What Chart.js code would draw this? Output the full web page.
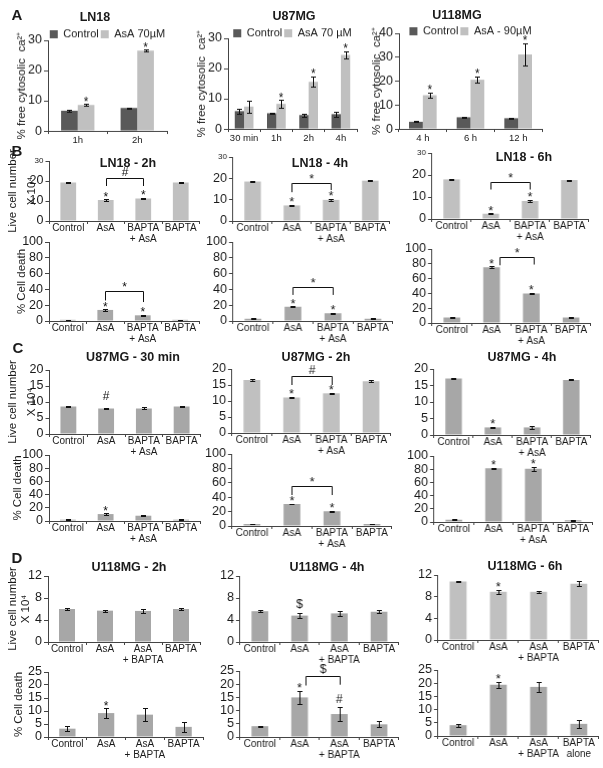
<!DOCTYPE html>
<html>
<head>
<meta charset="utf-8">
<script src="https://cdn.jsdelivr.net/npm/chart.js@4.4.0/dist/chart.umd.min.js"></script>
<style>
body { margin: 0; width: 603px; height: 768px; position: relative; overflow: hidden; background: #fff; font-family: "Liberation Sans", Arial, sans-serif; color: #1a1a1a; }
canvas { position: absolute; }
.t { position: absolute; font-weight: bold; font-size: 12.5px; transform: translate(-50%, -50%); white-space: nowrap; }
.p { position: absolute; font-weight: bold; font-size: 15px; transform: translate(-50%, -50%); }
</style>
</head>
<body>
<script>
// ---- A: cytosolic Ca2+ ----
const timesLN18 = ['1h', '2h'];
const caLN18Ctrl = [6.7, 7.6];
const caLN18AsA = [8.6, 26.6];
const caLN18CtrlErr = [0.3, 0.2];
const caLN18AsAErr = [0.3, 0.3];

const timesU87 = ['30 min', '1h', '2h', '4h'];
const caU87Ctrl = [5.9, 5.2, 4.6, 4.9];
const caU87AsA = [7.4, 8.3, 15.6, 24.5];
const caU87CtrlErr = [0.8, 0.3, 0.5, 0.9];
const caU87AsAErr = [2.0, 1.3, 1.7, 1.2];

const timesU118 = ['4 h', '6 h', '12 h'];
const caU118Ctrl = [3.0, 4.9, 4.5];
const caU118AsA = [14.1, 20.6, 31.2];
const caU118CtrlErr = [0.2, 0.2, 0.2];
const caU118AsAErr = [1.2, 1.4, 4.7];

// ---- B-D: treatments ----
const groupsBC = ['Control', 'AsA', ['BAPTA', '+ AsA'], 'BAPTA'];
const groupsD = ['Control', 'AsA', ['AsA', '+ BAPTA'], 'BAPTA'];
const groupsD6 = ['Control', 'AsA', ['AsA', '+ BAPTA'], ['BAPTA', 'alone']];

const liveLN18_2h = [19.2, 10.5, 11.3, 19.2];
const liveLN18_2hErr = [0.2, 0.3, 0.2, 0.2];
const deathLN18_2h = [1.5, 14, 7.2, 1.5];
const deathLN18_2hErr = [0.3, 0.8, 0.6, 0.3];

const liveLN18_4h = [18.5, 7.3, 9.9, 18.9];
const liveLN18_4hErr = [0.2, 0.4, 0.6, 0.2];
const deathLN18_4h = [3, 17.9, 9.7, 3];
const deathLN18_4hErr = [0.3, 0.5, 0.6, 0.3];

const liveLN18_6h = [18, 2.4, 8.2, 17.7];
const liveLN18_6hErr = [0.2, 0.2, 0.4, 0.2];
const deathLN18_6h = [7.6, 75.5, 40, 7.6];
const deathLN18_6hErr = [0.5, 1, 1.2, 0.5];

const liveU87_30m = [8.6, 8.0, 8.0, 8.6];
const liveU87_30mErr = [0.15, 0.2, 0.3, 0.1];
const deathU87_30m = [2, 10.5, 8, 2];
const deathU87_30mErr = [0.3, 1, 0.6, 0.3];

const liveU87_2h = [16.6, 11.1, 12.4, 16.2];
const liveU87_2hErr = [0.4, 0.25, 0.2, 0.3];
const deathU87_2h = [2.8, 30.5, 20.5, 2.8];
const deathU87_2hErr = [0.4, 0.6, 1, 0.3];

const liveU87_4h = [17.1, 2.3, 2.3, 16.7];
const liveU87_4hErr = [0.15, 0.2, 0.5, 0.15];
const deathU87_4h = [3.5, 81.5, 80.5, 2.5];
const deathU87_4hErr = [0.5, 1, 3.5, 0.5];

const liveU118_2h = [6.0, 5.7, 5.65, 6.0];
const liveU118_2hErr = [0.2, 0.2, 0.3, 0.2];
const deathU118_2h = [3.2, 9.2, 8.6, 3.9];
const deathU118_2hErr = [1.0, 1.8, 2.5, 1.9];

const liveU118_4h = [5.6, 4.8, 5.2, 5.5];
const liveU118_4hErr = [0.15, 0.45, 0.45, 0.3];
const deathU118_4h = [4.1, 15, 8.7, 4.8];
const deathU118_4hErr = [0.2, 2.4, 2.5, 1.1];

const liveU118_6h = [10.8, 8.9, 8.9, 10.4];
const liveU118_6hErr = [0.15, 0.35, 0.2, 0.5];
const deathU118_6h = [4.1, 19.4, 18.6, 4.6];
const deathU118_6hErr = [0.6, 1.1, 1.9, 1.4];

const TXT = '#1a1a1a', AX = '#444';
const DARK = '#595959', LIGHT = '#c0c0c0', MID = '#a7a7a7';
const LIVE = ['Live cell number', 'X 10\u2074'];
const DEATH = '% Cell death';
const CA = '% free cytosolic  ca\u00b2\u207a';

// error bars, stars, brackets; also pulls the legend down next to the plot
const marks = {
  id: 'marks',
  beforeDraw(chart, args, o) {
    const lg = chart.legend;
    if (o.legY == null || !lg || !lg.options.display) return;
    const h = lg.height;
    lg.top = chart.chartArea.top - o.legY - 2 - 5.5;
    lg.bottom = lg.top + h;
  },
  afterDatasetsDraw(chart, args, o) {
    const ctx = chart.ctx, ys = chart.scales.y, xs = chart.scales.x;
    ctx.save();
    ctx.strokeStyle = '#111';
    ctx.fillStyle = '#111';
    ctx.lineWidth = 1;
    const seg = (x1, y1, x2, y2) => { ctx.beginPath(); ctx.moveTo(x1, y1); ctx.lineTo(x2, y2); ctx.stroke(); };
    chart.data.datasets.forEach((ds, d) => {
      const meta = chart.getDatasetMeta(d);
      (ds.err || []).forEach((e, i) => {
        const x = Math.round(meta.data[i].x) + 0.5;
        const y1 = Math.round(ys.getPixelForValue(ds.data[i] + e)) + 0.5;
        const y2 = Math.round(ys.getPixelForValue(ds.data[i] - e)) + 0.5;
        seg(x, y1, x, y2); seg(x - 2.5, y1, x + 2.5, y1); seg(x - 2.5, y2, x + 2.5, y2);
      });
    });
    ctx.textAlign = 'center';
    ctx.textBaseline = 'middle';
    ctx.font = '12px "Liberation Sans", Arial';
    (o.stars || []).forEach(s => {
      const ds = chart.data.datasets[s.d || 0];
      const x = chart.getDatasetMeta(s.d || 0).data[s.i].x;
      const top = ys.getPixelForValue(ds.data[s.i] + (ds.err ? ds.err[s.i] : 0));
      ctx.fillText(s.t, x, top - (s.o != null ? s.o : (s.t === '*' ? 2 : 8)));
    });
    (o.brackets || []).forEach(b => {
      const x1 = Math.round(xs.getPixelForValue(b.a)) + 0.5, x2 = Math.round(xs.getPixelForValue(b.b)) + 0.5;
      const y = Math.round(ys.getPixelForValue(b.y)) + 0.5;
      ctx.beginPath();
      ctx.moveTo(x1, ys.getPixelForValue(b.l));
      ctx.lineTo(x1, y); ctx.lineTo(x2, y);
      ctx.lineTo(x2, ys.getPixelForValue(b.r));
      ctx.stroke();
      ctx.fillText(b.t, (x1 + x2) / 2, y - (b.t === '*' ? 4 : (b.t === '$' ? 7 : 6)));
    });
    ctx.restore();
  }
};

function panel(box, c) {
  const cv = document.createElement('canvas');
  cv.width = box.r - box.l + 90;
  cv.height = box.b - box.t + 80;
  document.body.appendChild(cv);
  const scales = {
    x: {
      grid: { drawOnChartArea: false, tickLength: 3, color: AX },
      border: { color: AX },
      ticks: {
        color: TXT, font: { size: c.xfs || 10, lineHeight: 1.1 },
        padding: c.xpad != null ? c.xpad : -1.5, maxRotation: 0, autoSkip: false
      }
    },
    y: {
      min: 0, max: c.max,
      afterFit: c.yw ? (s => { s.width = c.yw; }) : undefined,
      grid: { drawOnChartArea: false, tickLength: 4, color: AX },
      border: { color: AX },
      ticks: {
        stepSize: c.step, color: TXT, padding: 2, autoSkip: false,
        font: ctx => ({ size: (c.small && ctx.tick && ctx.tick.value === c.max) ? 8 : 12.5 })
      },
      title: c.ytitle ? {
        display: true, text: c.ytitle, color: TXT, padding: 0,
        font: { size: 11.5, lineHeight: c.lh || 1.2 }
      } : { display: false }
    }
  };
  if (c.legend) {
    // empty right-hand spacer so the full-width legend centres over the plot
    scales.spacer = {
      position: 'right', min: 0, max: 1,
      grid: { display: false }, border: { display: false }, ticks: { display: false },
      afterFit: s => { s.width = c.yw; }
    };
  }
  const chart = new Chart(cv, {
    type: 'bar',
    data: {
      labels: c.labels,
      datasets: c.sets.map(s => ({
        label: s.label, data: s.data, err: s.err, backgroundColor: s.color, yAxisID: 'y',
        categoryPercentage: c.cp || 1, barPercentage: c.bp || 0.42
      }))
    },
    options: {
      responsive: false, maintainAspectRatio: false, animation: false,
      layout: { padding: { top: 18, right: c.legend ? 0 : 8 } },
      plugins: {
        legend: c.legend ? {
          display: true, position: 'top', align: 'center',
          labels: { boxWidth: 8, boxHeight: 8, padding: 2, color: TXT, font: { size: 11 } }
        } : { display: false },
        tooltip: { enabled: false },
        marks: { stars: c.stars || [], brackets: c.brackets || [], legY: c.legY }
      },
      scales
    },
    plugins: [marks]
  });
  for (let k = 0; k < 2; k++) {
    const a = chart.chartArea;
    const dw = (box.r - box.l) - (a.right - a.left);
    const dh = (box.b - box.t) - (a.bottom - a.top);
    if (Math.abs(dw) > 0.2 || Math.abs(dh) > 0.2) chart.resize(chart.width + dw, chart.height + dh);
  }
  const a = chart.chartArea;
  cv.style.left = (box.l - a.left) + 'px';
  cv.style.top = (box.t - a.top) + 'px';
  return chart;
}

function label(text, x, y, cls) {
  const d = document.createElement('div');
  d.className = cls || 't';
  d.textContent = text;
  d.style.left = x + 'px';
  d.style.top = y + 'px';
  document.body.appendChild(d);
}

const one = (data, err, color) => [{ label: '', data, err, color }];

// ---- A ----
panel({ l: 48, t: 40, r: 167, b: 130 }, {
  labels: timesLN18, max: 30, step: 10, ytitle: CA, yw: 33, cp: 0.56, bp: 1, xfs: 9.5, xpad: 1,
  legend: true, legY: 6,
  sets: [
    { label: 'Control', data: caLN18Ctrl, err: caLN18CtrlErr, color: DARK },
    { label: 'AsA 70\u00b5M', data: caLN18AsA, err: caLN18AsAErr, color: LIGHT }
  ],
  stars: [{ i: 0, d: 1, t: '*' }, { i: 1, d: 1, t: '*' }]
});
panel({ l: 228, t: 38, r: 357, b: 128 }, {
  labels: timesU87, max: 30, step: 10, ytitle: CA, yw: 33, cp: 0.58, bp: 1, xfs: 9.5, xpad: 1,
  legend: true, legY: 5,
  sets: [
    { label: 'Control', data: caU87Ctrl, err: caU87CtrlErr, color: DARK },
    { label: 'AsA 70 \u00b5M', data: caU87AsA, err: caU87AsAErr, color: LIGHT }
  ],
  stars: [{ i: 1, d: 1, t: '*' }, { i: 2, d: 1, t: '*' }, { i: 3, d: 1, t: '*' }]
});
panel({ l: 399, t: 33, r: 542, b: 128 }, {
  labels: timesU118, max: 40, step: 10, ytitle: CA, yw: 29, cp: 0.58, bp: 1, xfs: 9.5, xpad: 1,
  legend: true, legY: 2,
  sets: [
    { label: 'Control', data: caU118Ctrl, err: caU118CtrlErr, color: DARK },
    { label: 'AsA - 90\u00b5M', data: caU118AsA, err: caU118AsAErr, color: LIGHT }
  ],
  stars: [{ i: 0, d: 1, t: '*' }, { i: 1, d: 1, t: '*' }, { i: 2, d: 1, t: '*' }]
});

// ---- B: LN18 ----
panel({ l: 49, t: 161, r: 199, b: 221 }, {
  labels: groupsBC, max: 30, step: 10, small: true, ytitle: LIVE, lh: 1.65, yw: 46.5,
  sets: one(liveLN18_2h, liveLN18_2hErr, LIGHT),
  stars: [{ i: 1, t: '*' }, { i: 2, t: '*' }],
  brackets: [{ a: 1, b: 2, y: 21.7, l: 17.5, r: 17.5, t: '#' }]
});
panel({ l: 49, t: 242, r: 199, b: 321 }, {
  labels: groupsBC, max: 100, step: 20, ytitle: DEATH, yw: 34,
  sets: one(deathLN18_2h, deathLN18_2hErr, MID),
  stars: [{ i: 1, t: '*' }, { i: 2, t: '*' }],
  brackets: [{ a: 1, b: 2, y: 38, l: 26, r: 24, t: '*' }]
});
panel({ l: 233, t: 157, r: 389, b: 221 }, {
  labels: groupsBC, max: 30, step: 10, small: true,
  sets: one(liveLN18_4h, liveLN18_4hErr, LIGHT),
  stars: [{ i: 1, t: '*' }, { i: 2, t: '*' }],
  brackets: [{ a: 1, b: 2, y: 17.7, l: 13.5, r: 14.5, t: '*' }]
});
panel({ l: 233, t: 242, r: 392, b: 321 }, {
  labels: groupsBC, max: 100, step: 20,
  sets: one(deathLN18_4h, deathLN18_4hErr, MID),
  stars: [{ i: 1, t: '*' }, { i: 2, t: '*' }],
  brackets: [{ a: 1, b: 2, y: 43.4, l: 33, r: 33, t: '*' }]
});
panel({ l: 432, t: 153, r: 588, b: 219 }, {
  labels: groupsBC, max: 30, step: 10, small: true,
  sets: one(liveLN18_6h, liveLN18_6hErr, LIGHT),
  stars: [{ i: 1, t: '*' }, { i: 2, t: '*' }],
  brackets: [{ a: 1, b: 2, y: 16.8, l: 13.4, r: 13.4, t: '*' }]
});
panel({ l: 432, t: 249, r: 590, b: 323 }, {
  labels: groupsBC, max: 100, step: 20,
  sets: one(deathLN18_6h, deathLN18_6hErr, MID),
  stars: [{ i: 1, t: '*' }, { i: 2, t: '*' }],
  brackets: [{ a: 1.2, b: 2.05, y: 89.7, l: 78, r: 79, t: '*' }]
});

// ---- C: U87MG ----
panel({ l: 49, t: 370, r: 200, b: 434 }, {
  labels: groupsBC, max: 20, step: 5, ytitle: LIVE, lh: 1.65, yw: 46.5,
  sets: one(liveU87_30m, liveU87_30mErr, MID),
  stars: [{ i: 1, t: '#', o: 11 }]
});
panel({ l: 49, t: 455, r: 200, b: 521 }, {
  labels: groupsBC, max: 100, step: 20, ytitle: DEATH, yw: 38,
  sets: one(deathU87_30m, deathU87_30mErr, MID),
  stars: [{ i: 1, t: '*' }]
});
panel({ l: 232, t: 369, r: 390, b: 433 }, {
  labels: groupsBC, max: 20, step: 5,
  sets: one(liveU87_2h, liveU87_2hErr, LIGHT),
  stars: [{ i: 1, t: '*' }, { i: 2, t: '*' }],
  brackets: [{ a: 1, b: 2, y: 17.9, l: 15, r: 15, t: '#' }]
});
panel({ l: 232, t: 454, r: 391, b: 526 }, {
  labels: groupsBC, max: 100, step: 20,
  sets: one(deathU87_2h, deathU87_2hErr, MID),
  stars: [{ i: 1, t: '*' }, { i: 2, t: '*' }],
  brackets: [{ a: 1, b: 2, y: 56, l: 43, r: 43, t: '*' }]
});
panel({ l: 434, t: 369, r: 590, b: 435 }, {
  labels: groupsBC, max: 20, step: 5,
  sets: one(liveU87_4h, liveU87_4hErr, MID),
  stars: [{ i: 1, t: '*' }]
});
panel({ l: 434, t: 456, r: 592, b: 522 }, {
  labels: groupsBC, max: 100, step: 20,
  sets: one(deathU87_4h, deathU87_4hErr, MID),
  stars: [{ i: 1, t: '*' }, { i: 2, t: '*' }]
});

// ---- D: U118MG ----
panel({ l: 48, t: 576, r: 200, b: 642 }, {
  labels: groupsD, max: 12, step: 4, ytitle: LIVE, lh: 1.15, yw: 42,
  sets: one(liveU118_2h, liveU118_2hErr, MID)
});
panel({ l: 48, t: 672, r: 203, b: 737 }, {
  labels: groupsD, max: 25, step: 5, ytitle: DEATH, yw: 36,
  sets: one(deathU118_2h, deathU118_2hErr, MID),
  stars: [{ i: 1, t: '*' }]
});
panel({ l: 240, t: 576, r: 398, b: 642 }, {
  labels: groupsD, max: 12, step: 4,
  sets: one(liveU118_4h, liveU118_4hErr, MID),
  stars: [{ i: 1, t: '$' }]
});
panel({ l: 240, t: 671, r: 398, b: 737 }, {
  labels: groupsD, max: 25, step: 5,
  sets: one(deathU118_4h, deathU118_4hErr, MID),
  stars: [{ i: 1, t: '*' }, { i: 2, t: '#' }],
  brackets: [{ a: 1.15, b: 2, y: 23.2, l: 19.5, r: 19.8, t: '$' }]
});
panel({ l: 438, t: 575, r: 598, b: 640 }, {
  labels: groupsD, max: 12, step: 4,
  sets: one(liveU118_6h, liveU118_6hErr, LIGHT),
  stars: [{ i: 1, t: '*' }]
});
panel({ l: 438, t: 670, r: 598, b: 736 }, {
  labels: groupsD6, max: 25, step: 5,
  sets: one(deathU118_6h, deathU118_6hErr, MID),
  stars: [{ i: 1, t: '*' }]
});

// titles and panel letters
label('A', 17, 14, 'p');
label('LN18', 95, 17);
label('U87MG', 294, 16);
label('U118MG', 457, 15);
label('B', 17, 150, 'p');
label('LN18 - 2h', 128, 163);
label('LN18 - 4h', 320, 163);
label('LN18 - 6h', 524, 157);
label('C', 18, 347, 'p');
label('U87MG - 30 min', 133, 357);
label('U87MG - 2h', 316, 357);
label('U87MG - 4h', 522, 357);
label('D', 17, 557, 'p');
label('U118MG - 2h', 129, 567);
label('U118MG - 4h', 327, 567);
label('U118MG - 6h', 525, 566);
</script>
</body>
</html>
